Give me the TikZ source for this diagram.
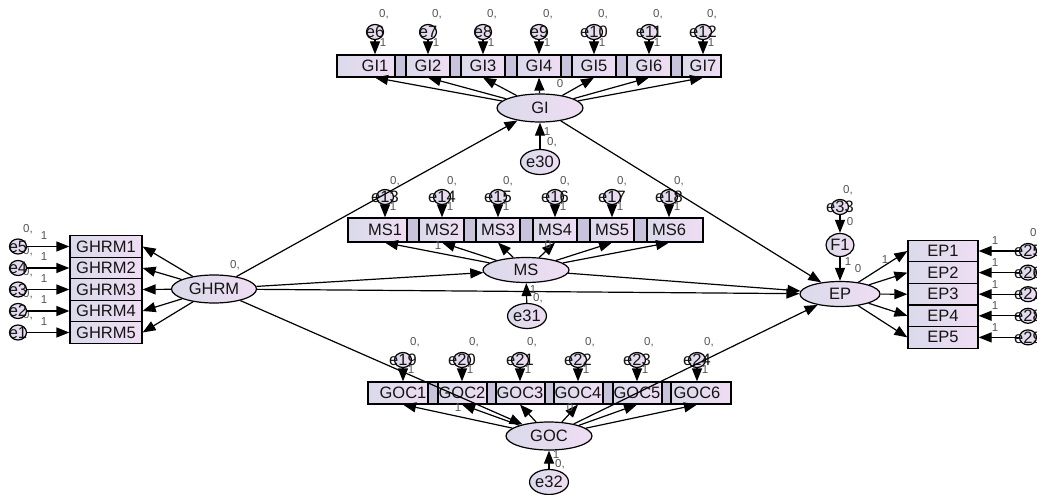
\documentclass[tikz,border=0pt]{standalone}
\usepackage{fontspec}
\setmainfont{Liberation Sans}
\usetikzlibrary{arrows.meta,shapes.geometric}
\definecolor{boxL}{HTML}{DADAEA}
\definecolor{boxR}{HTML}{EFDDF3}
\definecolor{stripc}{HTML}{C8C2DC}
\definecolor{lblc}{HTML}{555555}
\begin{document}
\begin{tikzpicture}[x=1pt,y=-1pt,
  every node/.style={font=\fontsize{16.5}{16.5}\selectfont,text=black!92},
  obs/.style={draw=black,line width=1.2pt,left color=boxL,right color=boxR,inner sep=0pt,minimum height=22pt},
  lat/.style={ellipse,draw=black,line width=1.2pt,left color=boxL,right color=boxR,inner sep=0pt,minimum width=86pt,minimum height=28pt},
  err/.style={ellipse,draw=black,line width=1.2pt,left color=boxL,right color=boxR,inner sep=0pt,minimum width=17pt,minimum height=15pt},
  res/.style={ellipse,draw=black,line width=1.2pt,left color=boxL,right color=boxR,inner sep=0pt,minimum width=29pt,minimum height=25pt},
  barc/.style={draw=black,line width=1.2pt,fill=stripc},
  arr/.style={line width=1.2pt,draw=black,-{Triangle[length=13pt,width=10pt]}},
  sm/.style={font=\fontsize{11.5}{11.5}\selectfont,text=lblc,inner sep=0pt},
]
\useasboundingbox (0,0) rectangle (1037,495);

% latent variables
\node[lat] (GI) at (540,108) {GI};
\node[lat,minimum height=25pt] (MS) at (526,270) {MS};
\node[lat] (GOC) at (549,436) {GOC};
\node[lat,minimum width=85pt] (GHRM) at (214,289) {GHRM};
\node[lat,minimum width=80pt,minimum height=25pt] (EP) at (840,294) {EP};

% GI row
\draw[barc] (337,55) rectangle (721,77);
\foreach \n/\s/\l/\r/\t/\e in {gi1/GI1/337/395/375/e6,gi2/GI2/406/450/428/e7,gi3/GI3/461/505/483/e8,gi4/GI4/517/561/539/e9,gi5/GI5/572/616/594/e10,gi6/GI6/627/671/649/e11,gi7/GI7/682/721/703/e12}{
  \node[obs,minimum width={\r-\l},label={[xshift={\t-(\l+\r)/2}]center:\s}] (\n) at ({(\l+\r)/2},66) {};
  \node[sm] (z\e) at (\t+9,14) {0,};
  \node[err,label=center:\e] (\e) at (\t,32) {};
  \draw[arr] (\e) -- ([xshift={\t-(\l+\r)/2}]\n.north);
  \node[sm] (o\e) at (\t+8,43) {1};
  \draw[arr] (GI) -- ([xshift={\t-(\l+\r)/2}]\n.south);
}

% MS row
\draw[barc] (348,218) rectangle (703,242);
\foreach \n/\s/\l/\r/\t/\e in {ms1/MS1/348/407/385/e13,ms2/MS2/419/464/442/e14,ms3/MS3/476/520/498/e15,ms4/MS4/533/577/555/e16,ms5/MS5/590/634/612/e17,ms6/MS6/647/703/669/e18}{
  \node[obs,minimum height=24pt,minimum width={\r-\l},label={[xshift={\t-(\l+\r)/2}]center:\s}] (\n) at ({(\l+\r)/2},230) {};
  \node[sm] (z\e) at (\t+10,181) {0,};
  \node[err,label=center:\e] (\e) at (\t,197) {};
  \draw[arr] (\e) -- ([xshift={\t-(\l+\r)/2}]\n.north);
  \node[sm] (o\e) at (\t+8,207) {1};
  \draw[arr] (MS) -- ([xshift={\t-(\l+\r)/2}]\n.south);
}

% GOC row
\draw[barc] (368,382) rectangle (731,404);
\foreach \n/\s/\l/\r/\t/\e in {goc1/GOC1/368/428/403/e19,goc2/GOC2/438/487/462/e20,goc3/GOC3/496/545/520/e21,goc4/GOC4/554/603/578/e22,goc5/GOC5/613/662/637/e23,goc6/GOC6/671/731/697/e24}{
  \node[obs,minimum width={\r-\l},label={[xshift={\t-(\l+\r)/2}]center:\s}] (\n) at ({(\l+\r)/2},393) {};
  \node[sm] (z\e) at (\t+12,342) {0,};
  \node[err,label=center:\e] (\e) at (\t,360) {};
  \draw[arr] (\e) -- ([xshift={\t-(\l+\r)/2}]\n.north);
  \node[sm] (o\e) at (\t+8,370) {1};
  \draw[arr] (GOC) -- ([xshift={\t-(\l+\r)/2}]\n.south);
}

% GHRM indicators
\foreach \n/\s/\c/\e in {h1/GHRM1/246.5/e5,h2/GHRM2/268/e4,h3/GHRM3/289.5/e3,h4/GHRM4/311/e2,h5/GHRM5/332.5/e1}{
  \node[obs,minimum width=72pt,minimum height=21.5pt] (\n) at (106,\c) {\s};
  \node[sm] (z\e) at (28,\c-17) {0,};
}
\foreach \n/\c/\e in {h1/246.5/e5,h2/268/e4,h3/289.5/e3,h4/311/e2,h5/332.5/e1}{
  \node[err,label=center:\e] (\e) at (18,\c) {};
  \draw[arr] (\e) -- (\n.west);
  \node[sm] (o\e) at (44,\c-11) {1};
  \draw[arr] (GHRM) -- (\n.east);
}

% EP indicators
\foreach \n/\s/\c/\e in {ep1/EP1/251/e25,ep2/EP2/272.6/e26,ep3/EP3/294.2/e27,ep4/EP4/315.8/e28,ep5/EP5/337.4/e29}{
  \node[obs,minimum width=70pt,minimum height=21.6pt] (\n) at (943,\c) {\s};
  \node[sm] (z\e) at (1035,\c-18) {0,};
}
\foreach \n/\c/\e in {ep1/251/e25,ep2/272.6/e26,ep3/294.2/e27,ep4/315.8/e28,ep5/337.4/e29}{
  \node[err,label=center:\e] (\e) at (1028,\c) {};
  \draw[arr] (\e) -- (\n.east);
  \node[sm] (o\e) at (995,\c-10) {1};
  \draw[arr] (EP) -- (\n.west);
}

% residuals
\node[res] (e30) at (540,162) {e30};
\node[res] (e31) at (527,316) {e31};
\node[res] (e32) at (549,482) {e32};
\node[res,minimum width=28pt,minimum height=23pt] (F1) at (840,245) {F1};
\node[err,label=center:e33] (e33) at (840,207) {};
\draw[arr] (e30) -- (GI);
\draw[arr] (e31) -- (MS);
\draw[arr] (e32) -- (GOC);
\draw[arr] (e33) -- (F1);
\draw[arr] (F1) -- (EP);

% structural paths
\draw[arr] (GHRM) -- (GI);
\draw[arr] (GHRM) -- (MS);
\draw[arr] (GHRM) -- (EP);
\draw[arr] (GHRM) -- (GOC);
\draw[arr] (GI) -- (EP);
\draw[arr] (MS) -- (EP);
\draw[arr] (GOC) -- (EP);

% parameter labels
\node[sm] (lgi) at (560,84) {0};
\node[sm] (lms1) at (438,246) {1};
\node[sm] (lms0) at (548,245) {0};
\node[sm] (lgoc1) at (458,408) {1};
\node[sm] (lgoc0) at (570,408) {0};
\node[sm] (lghrm) at (235,265) {0,};
\node[sm] (lep0) at (858,269) {0};
\node[sm] (lep1) at (885,260) {1};
\node[sm] (lf1a) at (848,262) {1};
\node[sm] (lf1b) at (850,222) {0};
\node[sm] (le33) at (848,190) {0,};
\node[sm] (le30a) at (547,132) {1};
\node[sm] (le30b) at (552,142) {0,};
\node[sm] (le31a) at (533,290) {1};
\node[sm] (le31b) at (538,298) {0,};
\node[sm] (le32a) at (556,455) {1};
\node[sm] (le32b) at (560,464) {0,};
\end{tikzpicture}
\end{document}
